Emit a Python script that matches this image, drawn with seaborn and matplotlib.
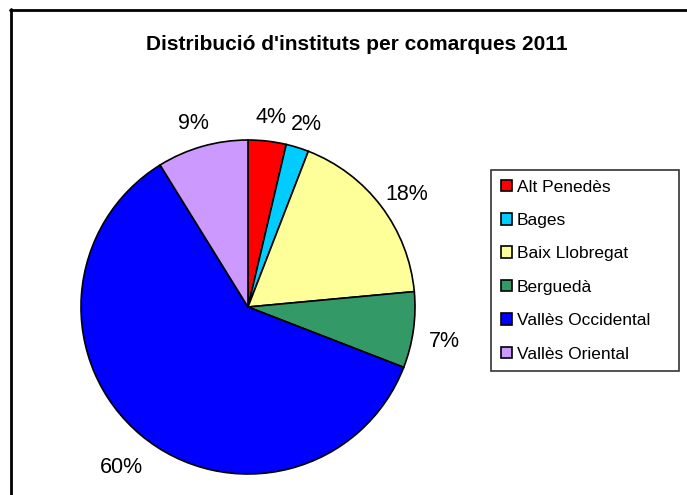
import matplotlib
matplotlib.use("Agg")
import matplotlib.pyplot as plt
import seaborn as sns
from matplotlib.lines import Line2D

# data: number of institutes per comarca (2011)
comarques = ["Alt Penedès", "Bages", "Baix Llobregat", "Berguedà",
             "Vallès Occidental", "Vallès Oriental"]
instituts = [5, 3, 24, 10, 82, 12]
colors = ["#FF0000", "#00CCFF", "#FFFF99", "#339966", "#0000FF", "#CC99FF"]

sns.set_theme(style="white")
plt.rcParams["font.family"] = ["Liberation Sans", "DejaVu Sans"]
plt.rcParams["text.color"] = "black"

W, H = 687, 495
fig = plt.figure(figsize=(W / 100, H / 100), dpi=100)

# pie area: centre (248, 307) px, radius 167 px
cx, cy, r = 248, 307, 167
ax = fig.add_axes([(cx - r) / W, (H - cy - r) / H, 2 * r / W, 2 * r / H])

wedges, texts, autotexts = ax.pie(
    instituts, colors=colors, startangle=90, counterclock=False,
    autopct=lambda p: f"{p:.0f}%", pctdistance=1.19,
    wedgeprops=dict(edgecolor="black", linewidth=1.2),
    textprops=dict(fontsize=15.5, color="black"),
)
# Excel puts the labels a little lower than matplotlib does
for t in autotexts:
    x, y = t.get_position()
    t.set_position((x, y - 0.045))
    t.set_clip_on(False)
ax.set_aspect("equal")
ax.set_xlim(-1, 1)
ax.set_ylim(-1, 1)

fig.text(357 / W, 1 - 45 / H, "Distribució d'instituts per comarques 2011",
         ha="center", va="center", fontsize=15, fontweight="bold",
         color="black")

# legend box: 491..679 px wide, 170..371 px tall
leg = fig.legend(
    wedges, comarques, loc="upper left",
    bbox_to_anchor=(491 / W, 1 - 371 / H, 188 / W, 201 / H), mode="expand",
    fontsize=12.5, frameon=True, fancybox=False, edgecolor="black",
    handlelength=0.65, handleheight=0.65, handletextpad=0.3,
    labelspacing=1.06, borderpad=0.55, borderaxespad=0,
)
leg.get_frame().set_linewidth(1.2)
for t in leg.get_texts():
    t.set_color("black")

# outer chart border (top and left visible)
fig.add_artist(Line2D([10 / W, 1], [1 - 9.5 / H, 1 - 9.5 / H],
                      transform=fig.transFigure, color="black", lw=2))
fig.add_artist(Line2D([10.5 / W, 10.5 / W], [0, 1 - 9 / H],
                      transform=fig.transFigure, color="black", lw=2))

fig.savefig("out.png", dpi=100)
